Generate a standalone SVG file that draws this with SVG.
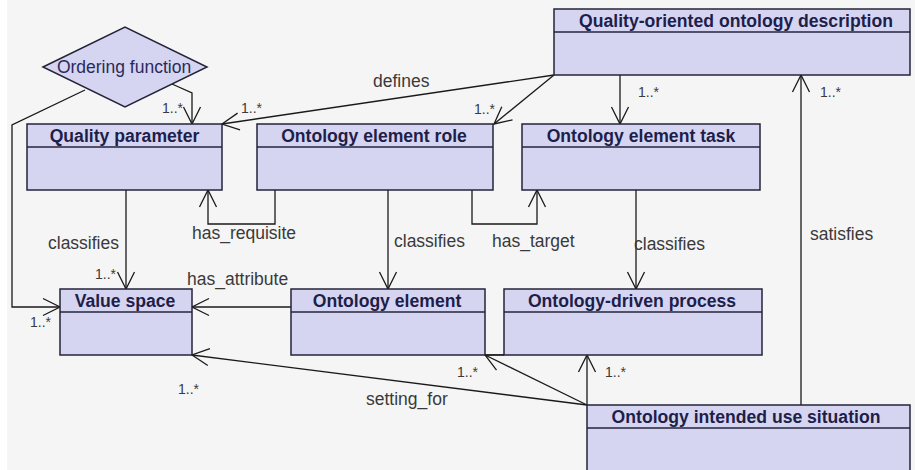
<svg xmlns="http://www.w3.org/2000/svg" width="915" height="470" viewBox="0 0 915 470">
<style>
.bg{fill:#f5f5f5}
.box{fill:#d5d5f1;stroke:#23233a;stroke-width:1.5}
.div{stroke:#23233a;stroke-width:1.5}
.title{font-family:"Liberation Sans",Arial,sans-serif;font-size:17.6px;font-weight:bold;fill:#1e1e4a;text-anchor:middle}
.dtext{font-family:"Liberation Sans",Arial,sans-serif;font-size:17.5px;fill:#2a2a5a;text-anchor:middle}
.lbl{font-family:"Liberation Sans",Arial,sans-serif;font-size:17.5px;fill:#3a3a3a}
.mul{font-family:"Liberation Sans",Arial,sans-serif;font-size:14px;fill:#3a3a3a}
.con{fill:none;stroke:#1a1a1a;stroke-width:1.3}
</style>
<defs>
<marker id="arr" markerUnits="userSpaceOnUse" markerWidth="24" markerHeight="24" viewBox="-20 -12 24 24" refX="0" refY="0" orient="auto">
<path d="M-17,-8.5 L0,0 L-17,8.5" fill="none" stroke="#1a1a1a" stroke-width="1.3"/>
</marker>
</defs>
<rect x="0" y="0" width="915" height="470" fill="#ffffff"/>
<rect class="bg" x="7" y="0" width="908" height="470"/>

<g id="connectors">
<path class="con" d="M172,84 L192,93 L192,124" marker-end="url(#arr)"/>
<path class="con" d="M85,90 L12,125 L12,307 L60,307" marker-end="url(#arr)"/>
<path class="con" d="M554,75 L222,124" marker-end="url(#arr)"/>
<path class="con" d="M554,75 L494,124" marker-end="url(#arr)"/>
<path class="con" d="M620,75 L620,124" marker-end="url(#arr)"/>
<path class="con" d="M801,405 L801,75" marker-end="url(#arr)"/>
<path class="con" d="M126,190 L126,289" marker-end="url(#arr)"/>
<path class="con" d="M275,190 L275,224 L208,224 L208,190" marker-end="url(#arr)"/>
<path class="con" d="M388,190 L388,289" marker-end="url(#arr)"/>
<path class="con" d="M472,190 L472,224 L537,224 L537,190" marker-end="url(#arr)"/>
<path class="con" d="M636,190 L636,289" marker-end="url(#arr)"/>
<path class="con" d="M291,307 L192,307" marker-end="url(#arr)"/>
<path class="con" d="M587,405 L192,355" marker-end="url(#arr)"/>
<path class="con" d="M587,405 L485,355" marker-end="url(#arr)"/>
<path class="con" d="M587,405 L587,355" marker-end="url(#arr)"/>
<path class="con" d="M485,355 L504,355"/>
<text class="lbl" x="373" y="87">defines</text>
<text class="mul" x="162" y="113">1..*</text>
<text class="mul" x="241" y="113">1..*</text>
<text class="mul" x="474" y="114">1..*</text>
<text class="mul" x="638" y="97">1..*</text>
<text class="mul" x="820" y="97">1..*</text>
<text class="lbl" x="48" y="249">classifies</text>
<text class="mul" x="95" y="279">1..*</text>
<text class="lbl" x="192" y="239">has_requisite</text>
<text class="lbl" x="187" y="285">has_attribute</text>
<text class="mul" x="30" y="327">1..*</text>
<text class="mul" x="178" y="394">1..*</text>
<text class="lbl" x="394" y="247">classifies</text>
<text class="lbl" x="492" y="247">has_target</text>
<text class="lbl" x="634" y="250">classifies</text>
<text class="lbl" x="810" y="240">satisfies</text>
<text class="mul" x="457" y="377">1..*</text>
<text class="lbl" x="366" y="405">setting_for</text>
<text class="mul" x="605" y="377">1..*</text>
</g>

<g id="ordering-function">
<polygon class="box" points="43,67 125,27 207,67 125,107"/>
<text class="dtext" x="124" y="73">Ordering function</text>
</g>

<g id="quality-oriented-ontology-description">
<rect class="box" x="554" y="9" width="356" height="66"/>
<line class="div" x1="554" y1="32" x2="910" y2="32"/>
<text class="title" x="736" y="27">Quality-oriented ontology description</text>
</g>

<g id="quality-parameter">
<rect class="box" x="27" y="124" width="195" height="66"/>
<line class="div" x1="27" y1="147" x2="222" y2="147"/>
<text class="title" x="124.5" y="142">Quality parameter</text>
</g>

<g id="ontology-element-role">
<rect class="box" x="257" y="124" width="236" height="66"/>
<line class="div" x1="257" y1="147" x2="493" y2="147"/>
<text class="title" x="374" y="142">Ontology element role</text>
</g>

<g id="ontology-element-task">
<rect class="box" x="522" y="124" width="238" height="66"/>
<line class="div" x1="522" y1="147" x2="760" y2="147"/>
<text class="title" x="641" y="142">Ontology element task</text>
</g>

<g id="value-space">
<rect class="box" x="60" y="289" width="132" height="66"/>
<line class="div" x1="60" y1="312" x2="192" y2="312"/>
<text class="title" x="125" y="307">Value space</text>
</g>

<g id="ontology-element">
<rect class="box" x="291" y="289" width="194" height="66"/>
<line class="div" x1="291" y1="312" x2="485" y2="312"/>
<text class="title" x="387" y="307">Ontology element</text>
</g>

<g id="ontology-driven-process">
<rect class="box" x="504" y="289" width="258" height="66"/>
<line class="div" x1="504" y1="312" x2="762" y2="312"/>
<text class="title" x="632" y="307">Ontology-driven process</text>
</g>

<g id="ontology-intended-use-situation">
<rect class="box" x="587" y="405" width="323" height="75"/>
<line class="div" x1="587" y1="428" x2="910" y2="428"/>
<text class="title" x="746" y="423">Ontology intended use situation</text>
</g>
</svg>
